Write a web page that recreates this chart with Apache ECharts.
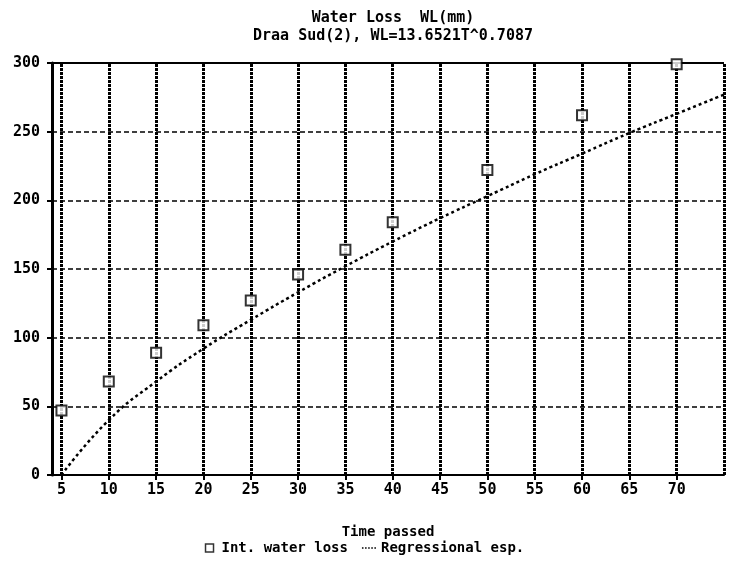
<!DOCTYPE html>
<html><head><meta charset="utf-8">
<script src="https://cdn.jsdelivr.net/npm/echarts@6/dist/echarts.min.js"></script>
<style>html,body{margin:0;padding:0;background:#fff}#c{width:729px;height:574px}</style>
</head><body><div id="c"></div>
<script>
var titleText = 'Water Loss  WL(mm)';
var subText = 'Draa Sud(2), WL=13.6521T^0.7087';
var xLabel = 'Time passed';
var seriesNames = ['Int. water loss', 'Regressional esp.'];
var xTicks = [5,10,15,20,25,30,35,40,45,50,55,60,65,70];
var yTicks = [0,50,100,150,200,250,300];
var timeVals = [5,10,15,20,25,30,35,40,50,60,70];
var waterLoss = [47,68,89,109,127,146,164,184,222,262,299];
var regTime = [5,10,15,20,25,30,35,40,45,50,55,60,65,70,75];
var regWL = [0,40,68,92,113,133,152,170,187,203,219,234,249,263,277];

var FONT = '"DejaVu Sans Mono", monospace';
var chart = echarts.init(document.getElementById('c'));
var vLines = xTicks.concat([75]).map(function(v){ return {xAxis: v}; });
chart.setOption({
  animation: false,
  backgroundColor: '#fff',
  title: {
    text: titleText + '\n' + subText,
    left: 388, top: 4, textAlign: 'center',
    textStyle: {fontFamily: FONT, fontWeight: 'bold', fontSize: 15, color: '#000', lineHeight: 18}
  },
  grid: {left: 52, right: 5, top: 63, bottom: 99, containLabel: false},
  legend: {
    orient: 'horizontal', bottom: 14, left: 'center', width: 600,
    itemGap: 14, itemWidth: 14, itemHeight: 8,
    textStyle: {fontFamily: FONT, fontWeight: 'bold', fontSize: 14, color: '#000'},
    data: [
      {name: seriesNames[0], icon: 'path://M0,0h8v8h-8z', itemStyle: {color: '#fff', borderColor: '#000', borderWidth: 1.5}},
      {name: seriesNames[1], icon: 'path://M0,4h2v2h-2z M4,4h2v2h-2z M8,4h2v2h-2z M12,4h2v2h-2z M16,4h2v2h-2z', itemStyle: {color: '#000'}}
    ]
  },
  xAxis: {
    type: 'value', min: 4, max: 75,
    name: xLabel, nameLocation: 'middle', nameGap: 50,
    nameTextStyle: {fontFamily: FONT, fontWeight: 'bold', fontSize: 14, color: '#000'},
    axisLine: {show: true, onZero: false, lineStyle: {color: '#000', width: 2}},
    axisTick: {show: true, customValues: xTicks, length: 5, lineStyle: {color: '#000', width: 2}},
    axisLabel: {customValues: xTicks, margin: 8, fontFamily: FONT, fontWeight: 'bold', fontSize: 15, color: '#000'},
    splitLine: {show: false}
  },
  yAxis: {
    type: 'value', min: 0, max: 300, interval: 50,
    axisLine: {show: true, lineStyle: {color: '#000', width: 3}},
    axisTick: {show: true, length: 5, lineStyle: {color: '#000', width: 2}},
    axisLabel: {margin: 12, fontFamily: FONT, fontWeight: 'bold', fontSize: 15, color: '#000'},
    splitLine: {show: true, lineStyle: {color: '#000', width: 1.5, type: [5, 3]}}
  },
  series: [
    {
      name: seriesNames[0], type: 'scatter', symbol: 'rect', symbolSize: 10,
      itemStyle: {color: '#fff', borderColor: '#000', borderWidth: 2},
      data: timeVals.map(function(t, i){ return [t, waterLoss[i]]; }),
      z: 5,
      markLine: {
        silent: true, symbol: 'none', label: {show: false},
        lineStyle: {color: '#000', width: 3, type: [3, 1]},
        data: vLines.concat([{yAxis: 300, lineStyle: {type: 'solid', width: 2}}])
      }
    },
    {
      name: seriesNames[1], type: 'line', smooth: true, symbol: 'none',
      lineStyle: {color: '#000', width: 2.5, type: [3, 3]},
      itemStyle: {color: '#000'},
      data: regTime.map(function(t, i){ return [t, regWL[i]]; }),
      z: 4
    }
  ]
});
</script></body></html>
